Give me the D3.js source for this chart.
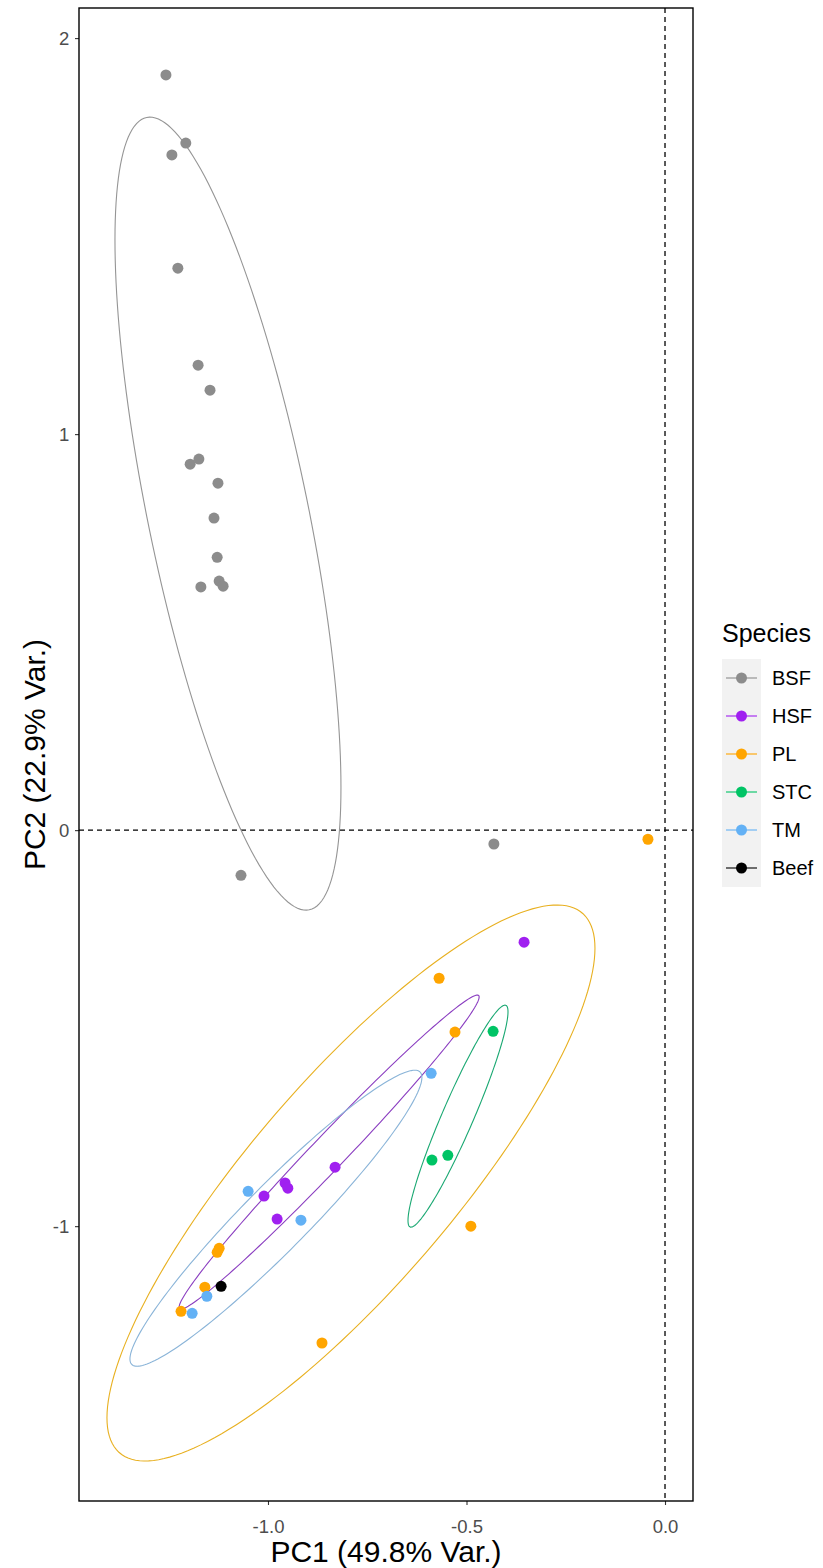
<!DOCTYPE html>
<html>
<head>
<meta charset="utf-8">
<script src="https://cdn.jsdelivr.net/npm/d3@7"></script>
<style>
  body { margin: 0; background: #fff; }
  svg { display: block; font-family: "Liberation Sans", Arial, sans-serif; }
</style>
</head>
<body>
<div id="canvas"></div>
<script>
// groups and colours
const species = ["BSF", "HSF", "PL", "STC", "TM", "Beef"];
const pointColors = ["#8C8C8C", "#A020F0", "#FFA500", "#00C465", "#63B1F5", "#000000"];
const ellipseColors = ["#959595", "#8A3DC0", "#E8B020", "#1AA872", "#8AB4D8"];

// PC scores
const bsfPC1 = [-1.257, -1.207, -1.242, -1.227, -1.176, -1.146, -1.196, -1.174, -1.126, -1.136, -1.128, -1.169, -1.123, -1.113, -1.068, -0.431];
const bsfPC2 = [1.907, 1.735, 1.705, 1.419, 1.174, 1.111, 0.924, 0.937, 0.876, 0.788, 0.689, 0.614, 0.629, 0.616, -0.114, -0.035];
const hsfPC1 = [-1.010, -0.957, -0.950, -0.831, -0.977, -0.355];
const hsfPC2 = [-0.924, -0.891, -0.904, -0.851, -0.982, -0.283];
const plPC1 = [-0.043, -0.569, -0.529, -0.489, -0.864, -1.128, -1.123, -1.159, -1.219];
const plPC2 = [-0.023, -0.374, -0.510, -1.000, -1.295, -1.066, -1.056, -1.154, -1.215];
const stcPC1 = [-0.433, -0.547, -0.587];
const stcPC2 = [-0.508, -0.821, -0.833];
const tmPC1 = [-1.050, -0.917, -1.154, -1.191, -0.589];
const tmPC2 = [-0.912, -0.985, -1.177, -1.220, -0.614];
const beefPC1 = [-1.118];
const beefPC2 = [-1.152];

// 95% ellipses: centre and covariance-like shape (PC units)
const ellipseCenter = [[-1.1008, 0.7992], [-0.846, -0.813], [-0.791, -0.891], [-0.5214, -0.7222], [-0.980, -0.980]];
const ellipseShape = [
  [0.0810, -0.1967, 1.0025],
  [0.1428, 0.1480, 0.1572],
  [0.3777, 0.3643, 0.4928],
  [0.01586, 0.03318, 0.07857],
  [0.1352, 0.1307, 0.1397]
];

const xTicks = [-1.0, -0.5, 0.0];
const yTicks = [-1, 0, 1, 2];

const allPC1 = [bsfPC1, hsfPC1, plPC1, stcPC1, tmPC1, beefPC1];
const allPC2 = [bsfPC2, hsfPC2, plPC2, stcPC2, tmPC2, beefPC2];

const data = [];
species.forEach((s, i) => {
  allPC1[i].forEach((v, j) => data.push({ species: s, pc1: v, pc2: allPC2[i][j] }));
});

const width = 823;
const height = 1568;
const margin = { top: 8, left: 79, bottom: 67, right: 130 };
const iwidth = width - margin.left - margin.right;
const iheight = height - margin.top - margin.bottom;

const svg = d3.select("#canvas").append("svg")
  .attr("width", width)
  .attr("height", height);

const g = svg.append("g").attr("transform", `translate(${margin.left},${margin.top})`);

const x = d3.scaleLinear().domain([-1.476, 0.0705]).range([0, iwidth]);
const y = d3.scaleLinear().domain([-1.694, 2.076]).range([iheight, 0]);
const color = d3.scaleOrdinal().domain(species).range(pointColors);

// axes (plain hyphen for negatives, as in R)
const xAxis = g.append("g")
  .attr("transform", `translate(0,${iheight})`)
  .call(d3.axisBottom(x).tickValues(xTicks).tickFormat(d => d.toFixed(1)).tickSizeOuter(0).tickSize(4));
const yAxis = g.append("g")
  .call(d3.axisLeft(y).tickValues(yTicks).tickFormat(d => String(d)).tickSizeOuter(0).tickSize(4));
[xAxis, yAxis].forEach(a => {
  a.select(".domain").remove();
  a.selectAll(".tick line").attr("stroke", "#333").attr("stroke-width", 1.1);
  a.selectAll(".tick text").attr("fill", "#4D4D4D").attr("font-size", 18.5)
    .attr("font-family", "Liberation Sans, Arial, sans-serif");
});
xAxis.selectAll(".tick text").attr("dy", "1.35em");
yAxis.selectAll(".tick text").attr("dx", "-0.15em");

// reference lines
g.append("line")
  .attr("x1", 0).attr("x2", iwidth).attr("y1", y(0)).attr("y2", y(0))
  .attr("stroke", "#000").attr("stroke-width", 1.3).attr("stroke-dasharray", "5,4");
g.append("line")
  .attr("x1", x(0)).attr("x2", x(0)).attr("y1", 0).attr("y2", iheight)
  .attr("stroke", "#000").attr("stroke-width", 1.3).attr("stroke-dasharray", "5,4");

// ellipses
const line = d3.line().x(d => x(d[0])).y(d => y(d[1]));
ellipseCenter.forEach((c, i) => {
  const [a, b, d] = ellipseShape[i];
  const l11 = Math.sqrt(a), l21 = b / l11, l22 = Math.sqrt(d - l21 * l21);
  const pts = d3.range(0, 361, 2).map(deg => {
    const t = deg * Math.PI / 180;
    const u = Math.cos(t), v = Math.sin(t);
    return [c[0] + l11 * u, c[1] + l21 * u + l22 * v];
  });
  g.append("path")
    .attr("d", line(pts))
    .attr("fill", "none")
    .attr("stroke", ellipseColors[i])
    .attr("stroke-width", 1.1);
});

// points
g.selectAll(".pt")
  .data(data)
  .enter().append("circle")
  .attr("class", "pt")
  .attr("cx", d => x(d.pc1))
  .attr("cy", d => y(d.pc2))
  .attr("r", 5.5)
  .attr("fill", d => color(d.species));

// panel border
g.append("rect")
  .attr("width", iwidth).attr("height", iheight)
  .attr("fill", "none").attr("stroke", "#000").attr("stroke-width", 1.4);

// axis titles
svg.append("text")
  .attr("x", margin.left + iwidth / 2).attr("y", 1562)
  .attr("text-anchor", "middle").attr("font-size", 30).attr("fill", "#000")
  .text("PC1 (49.8% Var.)");
svg.append("text")
  .attr("transform", `translate(45,${margin.top + iheight / 2}) rotate(-90)`)
  .attr("text-anchor", "middle").attr("font-size", 30).attr("fill", "#000")
  .text("PC2 (22.9% Var.)");

// legend
const legend = svg.append("g").attr("transform", "translate(722,659)");
legend.append("text")
  .attr("x", 0).attr("y", -17)
  .attr("font-size", 25).attr("fill", "#000")
  .text("Species");
const keys = legend.selectAll(".key")
  .data(species)
  .enter().append("g")
  .attr("class", "key")
  .attr("transform", (d, i) => `translate(0,${i * 38})`);
keys.append("rect")
  .attr("width", 39).attr("height", 38).attr("fill", "#F2F2F2");
keys.append("line")
  .attr("x1", 4).attr("x2", 35).attr("y1", 19).attr("y2", 19)
  .attr("stroke", d => color(d)).attr("stroke-width", 1.1);
keys.append("circle")
  .attr("cx", 19.5).attr("cy", 19).attr("r", 5.5)
  .attr("fill", d => color(d));
keys.append("text")
  .attr("x", 50).attr("y", 19).attr("dy", "0.35em")
  .attr("font-size", 20).attr("fill", "#000")
  .text(d => d);
</script>
</body>
</html>
